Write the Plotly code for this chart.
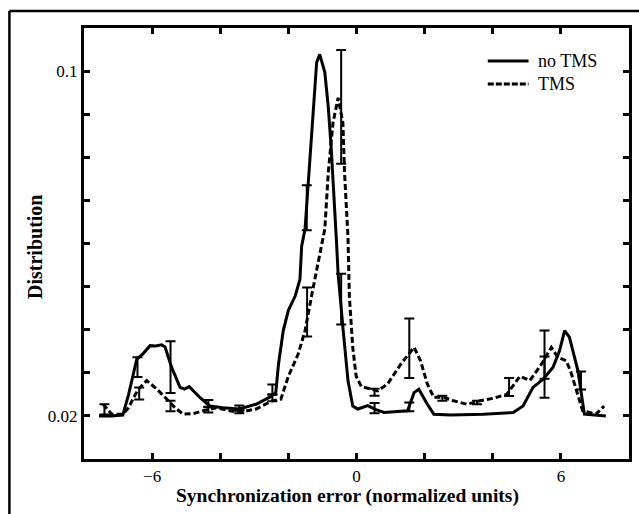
import plotly.graph_objects as go

# Distribution of synchronization error, without and with TMS
no_tms_x = [-7.56, -7.20, -6.86, -6.69, -6.45, -6.27, -6.06, -5.90, -5.72, -5.62,
            -5.43, -5.18, -5.05, -4.91, -4.75, -4.60, -4.31, -3.92, -3.44, -2.95,
            -2.56, -2.37, -2.29, -2.15, -2.00, -1.80, -1.66, -1.61, -1.51, -1.42,
            -1.27, -1.17, -1.08, -0.93, -0.83, -0.74, -0.59, -0.54, -0.40, -0.25,
            -0.11, 0.04, 0.33, 0.55, 0.81, 1.50, 1.69, 1.83, 2.08, 2.27,
            2.76, 3.73, 4.60, 4.89, 5.18, 5.48, 5.77, 5.96, 6.11, 6.25,
            6.50, 6.69, 7.32]
no_tms_y = [0.0200, 0.0200, 0.0202, 0.0250, 0.0332, 0.0344, 0.0363, 0.0362, 0.0365, 0.0360,
            0.0313, 0.0266, 0.0262, 0.0268, 0.0255, 0.0243, 0.0223, 0.0219, 0.0216, 0.0227,
            0.0243, 0.0254, 0.0320, 0.0398, 0.0445, 0.0478, 0.0517, 0.0594, 0.0634, 0.0740,
            0.0918, 0.1020, 0.1039, 0.0997, 0.0918, 0.0818, 0.0608, 0.0530, 0.0406, 0.0282,
            0.0223, 0.0216, 0.0224, 0.0215, 0.0208, 0.0212, 0.0254, 0.0262, 0.0227, 0.0204,
            0.0202, 0.0204, 0.0208, 0.0223, 0.0266, 0.0285, 0.0313, 0.0351, 0.0398, 0.0383,
            0.0305, 0.0204, 0.0200]

tms_x = [-7.44, -7.19, -6.86, -6.69, -6.54, -6.40, -6.16, -5.86, -5.57, -5.33,
         -5.09, -4.80, -4.50, -4.12, -3.73, -3.44, -2.95, -2.47, -2.22, -2.00,
         -1.71, -1.51, -1.32, -1.17, -1.03, -0.93, -0.83, -0.69, -0.54, -0.40,
         -0.35, -0.25, -0.21, -0.11, -0.01, 0.14, 0.43, 0.62, 0.91, 1.30,
         1.69, 1.88, 2.08, 2.27, 2.56, 2.85, 3.24, 3.63, 4.02, 4.41,
         4.80, 5.09, 5.43, 5.72, 5.91, 6.16, 6.30, 6.45, 6.64, 7.03,
         7.27]
tms_y = [0.0227, 0.0204, 0.0204, 0.0219, 0.0243, 0.0262, 0.0282, 0.0262, 0.0239, 0.0219,
         0.0204, 0.0205, 0.0212, 0.0219, 0.0212, 0.0208, 0.0216, 0.0235, 0.0239, 0.0292,
         0.0344, 0.0398, 0.0478, 0.0540, 0.0594, 0.0634, 0.0763, 0.0880, 0.0938, 0.0880,
         0.0763, 0.0615, 0.0478, 0.0359, 0.0292, 0.0268, 0.0262, 0.0258, 0.0274, 0.0320,
         0.0359, 0.0328, 0.0274, 0.0243, 0.0243, 0.0235, 0.0227, 0.0235, 0.0241, 0.0250,
         0.0292, 0.0282, 0.0320, 0.0359, 0.0336, 0.0328, 0.0300, 0.0261, 0.0212, 0.0204,
         0.0223]

# Error bars: position, centre and half-length
no_tms_err_x = [-6.43, -5.46, -4.35, -3.44, -2.47, -1.46, -0.45, 0.53, 1.55, 5.52, 6.59]
no_tms_err_y = [0.0313, 0.0313, 0.0229, 0.0218, 0.0261, 0.0683, 0.0471, 0.0218, 0.0221, 0.0290, 0.0282]
no_tms_err = [0.0023, 0.0060, 0.0008, 0.0006, 0.0012, 0.0052, 0.0059, 0.0012, 0.0010, 0.0048, 0.0021]

tms_err_x = [-7.40, -6.38, -5.46, -4.35, -3.44, -2.47, -1.45, -0.45, 0.53, 1.55, 2.52, 3.54, 4.48, 5.52]
tms_err_y = [0.0215, 0.0252, 0.0223, 0.0214, 0.0210, 0.0242, 0.0441, 0.0917, 0.0255, 0.0357, 0.0241, 0.0231, 0.0267, 0.0342]
tms_err = [0.0012, 0.0014, 0.0012, 0.0006, 0.0004, 0.0008, 0.0057, 0.0132, 0.0008, 0.0069, 0.0006, 0.0004, 0.0021, 0.0056]

x_tick_vals = [-6, -4, -2, 0, 2, 4, 6]
x_tick_text = ["\u22126", "", "", "0", "", "", "6"]
y_tick_vals = [0.02, 0.03, 0.04, 0.05, 0.06, 0.07, 0.08, 0.09, 0.1]
y_tick_text = ["0.02", "", "", "", "", "", "", "", "0.1"]

series_names = ["no TMS", "TMS"]

FONT = "Times New Roman, Liberation Serif, DejaVu Serif, serif"

fig = go.Figure()

fig.add_trace(go.Scatter(
    x=no_tms_x, y=no_tms_y, mode="lines", name=series_names[0],
    line=dict(color="black", width=3), showlegend=False))
fig.add_trace(go.Scatter(
    x=tms_x, y=tms_y, mode="lines", name=series_names[1],
    line=dict(color="black", width=3, dash="6px,3px"), showlegend=False))

for ex, ey, ee in [(no_tms_err_x, no_tms_err_y, no_tms_err),
                   (tms_err_x, tms_err_y, tms_err)]:
    fig.add_trace(go.Scatter(
        x=ex, y=ey, mode="markers", marker=dict(size=0.1, color="rgba(0,0,0,0)"),
        error_y=dict(type="data", array=ee, visible=True, color="black",
                     thickness=2, width=5),
        showlegend=False, hoverinfo="skip"))

axis_common = dict(
    showline=True, linecolor="black", linewidth=3, mirror="allticks",
    ticks="inside", ticklen=6, tickwidth=3, tickcolor="black",
    showgrid=False, zeroline=False,
    tickfont=dict(family=FONT, size=17, color="black"))

fig.update_xaxes(range=[-8, 8], tickvals=x_tick_vals, ticktext=x_tick_text, **axis_common)
fig.update_yaxes(range=[0.01, 0.11], tickvals=y_tick_vals, ticktext=y_tick_text, **axis_common)

L, R, T, B = 84, 7, 28, 55
W, H = 639, 514
pw, ph = W - L - R, H - T - B


def px_x(p):
    return (p - L) / pw


def px_y(p):
    return (H - B - p) / ph


shapes = [
    # outer frame (left and top edges)
    dict(type="line", xref="paper", yref="paper", x0=px_x(9), x1=px_x(9),
         y0=px_y(530), y1=px_y(11), line=dict(color="black", width=2.5)),
    dict(type="line", xref="paper", yref="paper", x0=px_x(9), x1=px_x(660),
         y0=px_y(11), y1=px_y(11), line=dict(color="black", width=2.5)),
    # legend samples
    dict(type="line", xref="paper", yref="paper", x0=px_x(490), x1=px_x(531),
         y0=px_y(61), y1=px_y(61), line=dict(color="black", width=3)),
    dict(type="line", xref="paper", yref="paper", x0=px_x(490), x1=px_x(531),
         y0=px_y(84), y1=px_y(84), line=dict(color="black", width=3, dash="6px,2px")),
]

annotations = [
    dict(text=series_names[0], xref="paper", yref="paper", x=px_x(538), y=px_y(61),
         xanchor="left", yanchor="middle", showarrow=False,
         font=dict(family=FONT, size=18, color="black")),
    dict(text=series_names[1], xref="paper", yref="paper", x=px_x(538), y=px_y(84),
         xanchor="left", yanchor="middle", showarrow=False,
         font=dict(family=FONT, size=18, color="black")),
    dict(text="<b>Synchronization error (normalized units)</b>", xref="paper", yref="paper",
         x=px_x(348.5), y=px_y(496), xanchor="center", yanchor="middle", showarrow=False,
         font=dict(family=FONT, size=19.5, color="black")),
    dict(text="<b>Distribution</b>", xref="paper", yref="paper", textangle=-90,
         x=px_x(34), y=px_y(246.7), xanchor="center", yanchor="middle", showarrow=False,
         font=dict(family=FONT, size=20, color="black")),
]

fig.update_layout(
    width=W, height=H,
    margin=dict(l=L, r=R, t=T, b=B),
    paper_bgcolor="white", plot_bgcolor="white",
    showlegend=False,
    shapes=shapes, annotations=annotations,
)

fig.write_html("out.html")
